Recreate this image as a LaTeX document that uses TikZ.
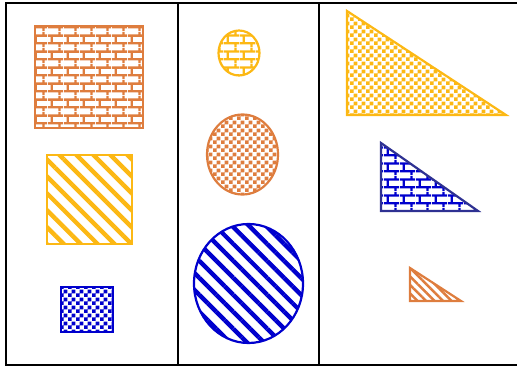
\documentclass[tikz,border=0pt]{standalone}
\usepackage{tikz}
\usetikzlibrary{patterns,patterns.meta}
\definecolor{brickorange}{RGB}{222,125,62}
\definecolor{sunyellow}{RGB}{252,184,20}
\definecolor{royalblue}{RGB}{0,0,205}
\definecolor{navyline}{RGB}{46,49,146}
% fill patterns
\tikzdeclarepattern{
  name=brickwall, type=uncolored,
  bounding box={(0pt,0pt) and (16pt,16pt)},
  tile size={(16pt,16pt)},
  code={
    \draw[line width=2.4pt] (0pt,4pt) -- (16pt,4pt) (0pt,12pt) -- (16pt,12pt)
      (4pt,4pt) -- (4pt,12pt) (12pt,12pt) -- (12pt,16pt) (12pt,0pt) -- (12pt,4pt);
  }
}
\tikzdeclarepattern{
  name=checks, type=uncolored,
  bounding box={(0pt,0pt) and (7.6pt,7.6pt)},
  tile size={(7.6pt,7.6pt)},
  code={\fill (0pt,0pt) rectangle (3.8pt,3.8pt) (3.8pt,3.8pt) rectangle (7.6pt,7.6pt);}
}
\tikzset{
  shp/.style={draw=#1, line width=2.2pt, pattern color=#1},
  bricks/.style={pattern=brickwall},
  checker/.style={pattern=checks},
  stripes/.style={pattern={Lines[angle=-45, distance=12pt, line width=4.4pt]}},
  frame/.style={line width=2.2pt, black}
}

\begin{document}
\begin{tikzpicture}[x=1pt, y=-1pt]
\useasboundingbox (0,0) rectangle (517,367);
% panels
\draw[frame] (522,3) -- (6,3) -- (6,365) -- (522,365);
\draw[frame] (178,3) -- (178,365) (319,3) -- (319,365);
% rectangles
\draw[shp=brickorange, bricks] (35,26) rectangle (143,128);
\draw[shp=sunyellow, stripes] (47,155) rectangle (132,244);
\draw[shp=royalblue, checker] (61,287) rectangle (113,332);
% ellipses
\draw[shp=sunyellow, bricks] (239,53) ellipse [x radius=20.5, y radius=22.5];
\draw[shp=brickorange, checker] (242.5,154.5) ellipse [x radius=35.5, y radius=40];
\draw[shp=royalblue, stripes] (248.5,283.5) ellipse [x radius=54.5, y radius=59.5];
% triangles
\draw[shp=sunyellow, checker] (347,11) -- (347,115) -- (506,115) -- cycle;
\draw[shp=navyline, pattern color=royalblue, bricks] (381,143) -- (381,211) -- (478,211) -- cycle;
\draw[shp=brickorange, pattern={Lines[angle=-45, distance=6pt, line width=2.6pt]}] (410,268) -- (410,301) -- (461,301) -- cycle;
\end{tikzpicture}
\end{document}
